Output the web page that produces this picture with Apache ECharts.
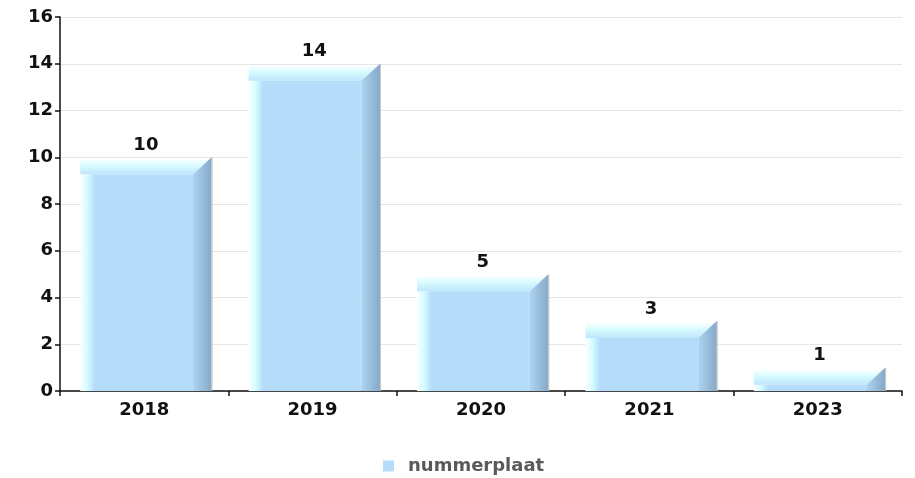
<!DOCTYPE html>
<html>
<head>
<meta charset="utf-8">
<script src="https://cdn.jsdelivr.net/npm/echarts@6/dist/echarts.min.js"></script>
<style>
html,body{margin:0;padding:0;background:#fff;}
#chart{width:915px;height:478px;}
</style>
</head>
<body>
<div id="chart"></div>
<script>
const categories = ['2018', '2019', '2020', '2021', '2023'];
const values = [10, 14, 5, 3, 1];
const seriesName = 'nummerplaat';
const yMin = 0, yMax = 16, yInterval = 2;

const FONT = '"DejaVu Sans", sans-serif';
const FACE = '#b5ddfa';

const chart = echarts.init(document.getElementById('chart'), null, {renderer: 'canvas'});

function renderItem(params, api) {
  const top = api.coord([api.value(0), api.value(1)]);
  const base = api.coord([api.value(0), 0]);
  const bw = api.size([1, 0])[0];
  const cx = top[0];
  const L = cx - bw * 0.38;
  const R = cx + bw * 0.29;
  const S = cx + bw * 0.40;
  const d = 17;
  const yv = top[1];
  const y0 = base[1];
  const lin = echarts.graphic.LinearGradient;
  return {
    type: 'group',
    children: [
      {
        type: 'rect',
        shape: {x: L, y: yv + d, width: R - L, height: y0 - (yv + d)},
        style: {
          fill: new lin(0, 0, 1, 0, [
            {offset: 0, color: '#fbffff'},
            {offset: 0.06, color: '#d6fdff'},
            {offset: 0.13, color: FACE},
            {offset: 1, color: FACE}
          ])
        }
      },
      {
        type: 'polygon',
        shape: {points: [[L, yv + 2], [S - 2, yv + 2], [R, yv + d], [L, yv + d]]},
        style: {
          fill: new lin(0, 0, 0, 1, [
            {offset: 0, color: '#fbffff'},
            {offset: 0.45, color: '#d6fbff'},
            {offset: 1, color: '#bfe6fc'}
          ])
        }
      },
      {
        type: 'polygon',
        shape: {points: [[R, yv + d], [S, yv], [S, y0], [R, y0]]},
        style: {
          fill: new lin(0, 0, 1, 0, [
            {offset: 0, color: '#acd4f2'},
            {offset: 1, color: '#86a9c6'}
          ])
        }
      },
      {
        type: 'line',
        shape: {x1: S + 0.5, y1: yv, x2: S + 0.5, y2: y0},
        style: {stroke: '#c4c4c4', lineWidth: 1}
      },
      {
        type: 'text',
        style: {
          x: (L + S) / 2,
          y: yv - 3,
          text: String(api.value(1)),
          align: 'center',
          verticalAlign: 'bottom',
          font: 'bold 18px ' + FONT,
          fill: '#111'
        }
      }
    ]
  };
}

chart.setOption({
  animation: false,
  backgroundColor: '#fff',
  grid: {left: 60, right: 13, top: 17, bottom: 87},
  legend: {
    data: [{name: seriesName, icon: 'rect', itemStyle: {color: FACE}}],
    left: 378,
    top: 452,
    itemWidth: 11,
    itemHeight: 11,
    itemGap: 10,
    textStyle: {fontFamily: FONT, fontWeight: 'bold', fontSize: 18, color: '#5a5a5a', padding: [0, 0, 0, 9]}
  },
  xAxis: {
    type: 'category',
    data: categories,
    axisLine: {lineStyle: {color: '#111', width: 1.5}},
    axisTick: {show: true, length: 5, lineStyle: {color: '#111', width: 1.5}},
    axisLabel: {fontFamily: FONT, fontWeight: 'bold', fontSize: 18, color: '#111', margin: 10}
  },
  yAxis: {
    type: 'value',
    min: yMin,
    max: yMax,
    interval: yInterval,
    axisLine: {show: true, lineStyle: {color: '#111', width: 1.5}},
    axisTick: {show: true, length: 5, lineStyle: {color: '#111', width: 1.5}},
    splitLine: {lineStyle: {color: '#e6e6e6'}},
    axisLabel: {fontFamily: FONT, fontWeight: 'bold', fontSize: 18, color: '#111', margin: 7}
  },
  series: [{
    name: seriesName,
    type: 'custom',
    renderItem: renderItem,
    itemStyle: {color: FACE},
    encode: {x: 0, y: 1},
    data: categories.map((c, i) => [i, values[i]])
  }]
});
</script>
</body>
</html>
